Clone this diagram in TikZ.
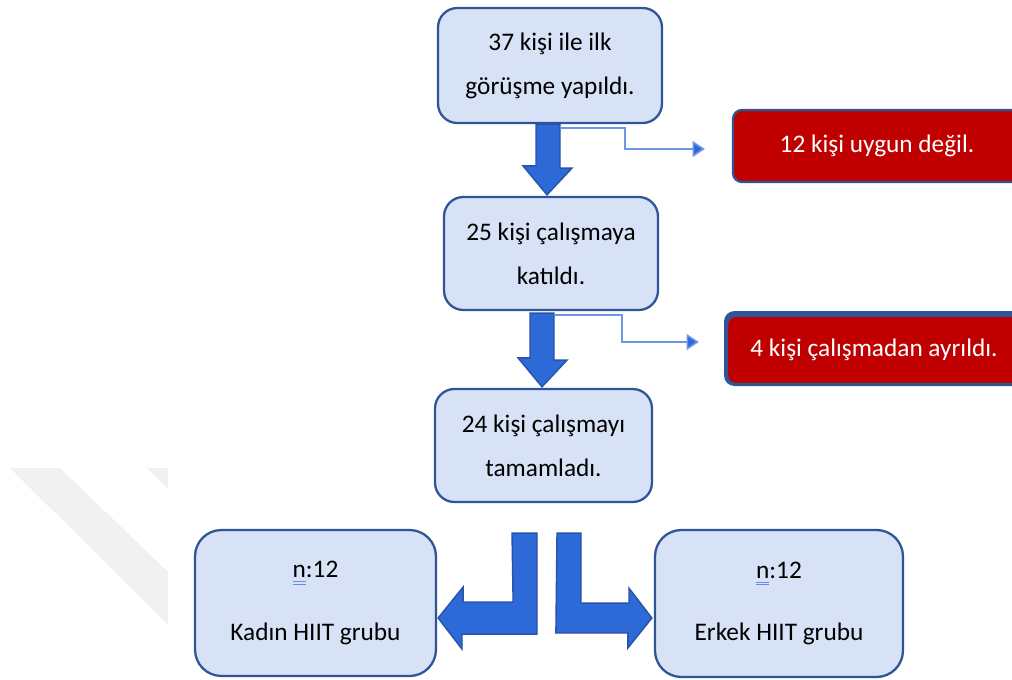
\documentclass[tikz,border=0pt]{standalone}
\usepackage{fontspec}
\setmainfont{Carlito}
\usetikzlibrary{positioning,arrows.meta,calc}
\definecolor{boxfill}{RGB}{215,226,246}
\definecolor{boxline}{RGB}{47,85,151}
\definecolor{flowblue}{RGB}{46,105,216}
\definecolor{flowedge}{RGB}{40,84,168}
\definecolor{exitred}{RGB}{192,0,0}
\definecolor{thinblue}{RGB}{110,150,228}
\definecolor{markblue}{RGB}{100,140,225}
\newcommand{\spellmark}[1]{\sbox0{#1}\rlap{\color{markblue}\rule[-2.6pt]{\wd0}{0.45pt}}\rlap{\color{markblue}\rule[-4pt]{\wd0}{0.45pt}}#1}

\begin{document}
\begin{tikzpicture}[
    x=0.02cm, y=-0.02cm,
    stage/.style={rectangle, draw=boxline, line width=1.3pt, fill=boxfill, rounded corners=11pt, align=center, font=\fontsize{14.4}{25}\selectfont},
    exitbox/.style={rectangle, draw=boxline, line width=1.3pt, fill=exitred, rounded corners=5pt, text=white, font=\fontsize{14.4}{25}\selectfont},
    fatarrow/.style={fill=flowblue, draw=flowedge, line width=0.8pt, line join=miter},
    thinarrow/.style={-{Triangle[length=7pt, width=9pt, fill=flowblue]}, draw=thinblue, line width=0.9pt}
]
\useasboundingbox (0,0) rectangle (1012,680);
\clip (0,0) rectangle (1012,680);

% Watermark
\fill[gray!11] (10,468) -- (60,468) -- (168,572) -- (168,625) -- cycle;
\fill[gray!11] (147,468) -- (168,468) -- (168,489) -- cycle;

% Flow
\node[stage, minimum width=4.48cm, minimum height=2.3cm] (intro) at (550,65.5) {37 kişi ile ilk\\görüşme yapıldı.};
\node[stage, minimum width=4.28cm, minimum height=2.26cm] (joined) at (551,253.5) {25 kişi çalışmaya\\katıldı.};
\node[stage, minimum width=4.34cm, minimum height=2.26cm] (done) at (543.5,445.5) {24 kişi çalışmayı\\tamamladı.};

% Exits
\node[exitbox, minimum width=5.76cm, minimum height=1.44cm] (unfit) at (877,146) {12 kişi uygun değil.};
\fill[boxline, rounded corners=6pt] (724,311) rectangle (1030,386);
\node[exitbox, minimum width=5.88cm, minimum height=1.36cm] (dropout) at (874,350) {4 kişi çalışmadan ayrıldı.};

% Groups
\node[stage, rounded corners=15pt, minimum width=4.82cm, minimum height=2.92cm] (women) at (315.5,603) {\spellmark{n}:12\\[10.8pt]Kadın HIIT grubu};
\node[stage, rounded corners=15pt, minimum width=4.96cm, minimum height=2.94cm] (men) at (779,603.5) {\spellmark{n}:12\\[10.8pt]Erkek HIIT grubu};

% Block arrows
\filldraw[fatarrow] ($(intro.south)+(-14,0)$) -- ++(24,0) -- ++(0,44) -- ++(12,0)
    -- ($(joined.north)+(-4,-1)$) -- ++(-24,-29) -- ++(13,0) -- cycle;
\filldraw[fatarrow] ($(joined.south)+(-21,2)$) -- ++(24,0) -- ++(0,47) -- ++(13,0)
    -- ($(done.north)+(-1.5,-1)$) -- ++(-24,-29) -- ++(12,0) -- cycle;
\filldraw[fatarrow] ($(done.south)+(-31.5,30)$) -- ++(25,0) -- ++(0,101) -- ++(-75,0) -- ++(0,15)
    -- ($(women.east)+(1,15)$) -- ++(25,-31) -- ++(0,15) -- ++(50,0) -- cycle;
\filldraw[fatarrow] ($(done.south)+(13.5,30)$) -- ++(24,0) -- ++(0,70) -- ++(48,0) -- ++(0,-15)
    -- ($(men.west)+(-2,14.5)$) -- ++(-24,30) -- ++(0,-15) -- ++(-72,0) -- cycle;

% Side arrows
\draw[thinarrow] ($(intro.south)+(10,4)$) -- ++(65,0) |- ($(unfit.west)+(-27,3)$);
\draw[thinarrow] ($(joined.south)+(3,4)$) -- ++(68,0) |- ($(dropout.west)+(-27,-8)$);
\end{tikzpicture}
\end{document}
